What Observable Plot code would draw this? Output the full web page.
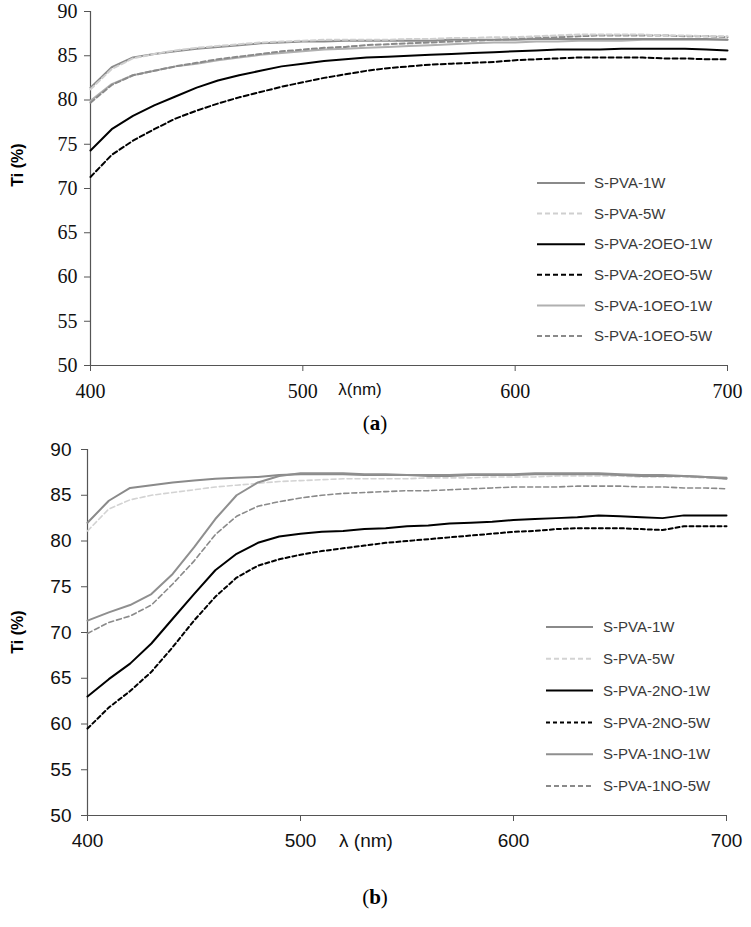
<!DOCTYPE html>
<html><head><meta charset="utf-8">
<script src="https://cdn.jsdelivr.net/npm/d3@7"></script>
<script src="https://cdn.jsdelivr.net/npm/@observablehq/plot@0.6"></script>
<style>
body{margin:0;background:#fff;}
#wrap{position:relative;width:751px;height:927px;overflow:hidden;background:#fff;}
.abs{position:absolute;white-space:nowrap;}
</style></head><body><div id="wrap"></div>
<script>
// ---------- data ----------
const lambda = [400,410,420,430,440,450,460,470,480,490,500,510,520,530,540,550,560,570,580,590,600,610,620,630,640,650,660,670,680,690,700];
const xTicks = [400,500,600,700];
const yTicks = [50,55,60,65,70,75,80,85,90];

// panel (a)
const namesA = ["S-PVA-1W","S-PVA-5W","S-PVA-2OEO-1W","S-PVA-2OEO-5W","S-PVA-1OEO-1W","S-PVA-1OEO-5W"];
const a_1W     = [81.4,83.7,84.8,85.2,85.5,85.8,86.0,86.2,86.4,86.5,86.6,86.6,86.7,86.7,86.7,86.7,86.7,86.8,86.8,86.8,86.8,86.9,86.9,86.9,86.9,86.9,86.9,86.9,86.9,86.9,86.8];
const a_5W     = [81.2,83.5,84.7,85.2,85.6,85.9,86.1,86.3,86.5,86.6,86.7,86.8,86.8,86.8,86.8,86.9,86.9,87.0,87.0,87.1,87.1,87.2,87.3,87.4,87.4,87.4,87.4,87.3,87.3,87.2,87.2];
const a_2OEO1W = [74.3,76.7,78.2,79.4,80.4,81.4,82.2,82.8,83.3,83.8,84.1,84.4,84.6,84.8,84.9,85.0,85.1,85.2,85.3,85.4,85.5,85.6,85.7,85.7,85.7,85.8,85.8,85.8,85.8,85.7,85.6];
const a_2OEO5W = [71.3,73.8,75.4,76.7,77.9,78.8,79.6,80.3,80.9,81.5,82.0,82.5,82.9,83.3,83.6,83.8,84.0,84.1,84.2,84.3,84.5,84.6,84.7,84.8,84.8,84.8,84.8,84.7,84.7,84.6,84.6];
const a_1OEO1W = [79.9,81.8,82.8,83.3,83.8,84.1,84.5,84.8,85.1,85.3,85.5,85.7,85.8,85.9,86.0,86.1,86.2,86.3,86.4,86.5,86.5,86.6,86.6,86.7,86.7,86.7,86.8,86.8,86.8,86.8,86.8];
const a_1OEO5W = [79.7,81.7,82.8,83.3,83.8,84.2,84.6,84.9,85.2,85.5,85.7,85.9,86.0,86.2,86.3,86.4,86.5,86.6,86.7,86.8,86.9,87.0,87.1,87.2,87.3,87.3,87.3,87.3,87.2,87.2,87.1];

// panel (b)
const namesB = ["S-PVA-1W","S-PVA-5W","S-PVA-2NO-1W","S-PVA-2NO-5W","S-PVA-1NO-1W","S-PVA-1NO-5W"];
const b_1W    = [82.0,84.4,85.8,86.1,86.4,86.6,86.8,86.9,87.0,87.2,87.3,87.3,87.3,87.2,87.2,87.2,87.1,87.1,87.2,87.2,87.2,87.3,87.3,87.3,87.3,87.2,87.1,87.1,87.1,87.0,86.8];
const b_5W    = [81.1,83.5,84.5,85.0,85.3,85.6,85.9,86.1,86.3,86.5,86.6,86.7,86.8,86.8,86.8,86.8,86.9,86.9,86.9,87.0,87.0,87.0,87.1,87.1,87.1,87.1,87.0,87.0,87.0,86.9,86.8];
const b_2NO1W = [63.0,64.9,66.6,68.8,71.5,74.2,76.8,78.6,79.8,80.5,80.8,81.0,81.1,81.3,81.4,81.6,81.7,81.9,82.0,82.1,82.3,82.4,82.5,82.6,82.8,82.7,82.6,82.5,82.8,82.8,82.8];
const b_2NO5W = [59.5,61.8,63.6,65.7,68.4,71.3,73.9,76.0,77.3,78.0,78.5,78.9,79.2,79.5,79.8,80.0,80.2,80.4,80.6,80.8,81.0,81.1,81.3,81.4,81.4,81.4,81.3,81.2,81.6,81.6,81.6];
const b_1NO1W = [71.3,72.2,73.0,74.2,76.4,79.3,82.4,85.0,86.4,87.1,87.4,87.4,87.4,87.3,87.3,87.2,87.2,87.2,87.3,87.3,87.3,87.4,87.4,87.4,87.4,87.3,87.2,87.2,87.1,87.0,86.9];
const b_1NO5W = [69.9,71.1,71.8,73.0,75.3,77.8,80.7,82.7,83.8,84.3,84.7,85.0,85.2,85.3,85.4,85.5,85.5,85.6,85.7,85.8,85.9,85.9,85.9,86.0,86.0,86.0,85.9,85.9,85.8,85.8,85.7];

// ---------- styles ----------
const stylesA = [
  {stroke:"#8a8a8a", dash:null, w:2},
  {stroke:"#cfcfcf", dash:"5,3", w:2},
  {stroke:"#000000", dash:null, w:2},
  {stroke:"#000000", dash:"5,3", w:2},
  {stroke:"#b0b0b0", dash:null, w:2},
  {stroke:"#8a8a8a", dash:"5,3", w:2}
];
const stylesB = [
  {stroke:"#8a8a8a", dash:null, w:2},
  {stroke:"#d3d3d3", dash:"5,3", w:1.6},
  {stroke:"#000000", dash:null, w:2},
  {stroke:"#000000", dash:"4,3", w:2},
  {stroke:"#8f8f8f", dash:null, w:2},
  {stroke:"#8a8a8a", dash:"5,3", w:1.6}
];
const seriesA = [a_1W,a_5W,a_2OEO1W,a_2OEO5W,a_1OEO1W,a_1OEO5W];
const seriesB = [b_1W,b_5W,b_2NO1W,b_2NO5W,b_1NO1W,b_1NO5W];
const drawOrderA = [4,0,5,1,2,3];
const drawOrderB = [1,0,5,4,3,2];

const wrap = document.getElementById("wrap");

function rows(vals){ return lambda.map((l,i)=>({l, v: vals[i]})); }

function makePanel(cfg){
  const lines = cfg.order.map(k => Plot.line(rows(cfg.series[k]), {
    x:"l", y:"v", stroke: cfg.styles[k].stroke, strokeWidth: cfg.styles[k].w,
    strokeDasharray: cfg.styles[k].dash || undefined
  }));
  const p = Plot.plot({
    width: 751, height: cfg.height,
    marginLeft: cfg.ml, marginRight: cfg.mr, marginTop: cfg.mt, marginBottom: cfg.mb,
    style: {fontFamily: cfg.font, fontSize: cfg.fontSize, color:"#111", background:"transparent", overflow:"visible"},
    x: {domain:[400,700]},
    y: {domain:[50,90]},
    marks: [
      Plot.axisY({ticks: yTicks, tickSize: 6, tickPadding: cfg.ypad, label: null, stroke:"#555", fill:"#111"}),
      Plot.axisX({ticks: xTicks, tickSize: 6, tickPadding: cfg.xpad, label: null, stroke:"#555", fill:"#111"}),
      Plot.ruleX([400], {stroke:"#555", strokeWidth:1.2}),
      Plot.ruleY([50], {stroke:"#555", strokeWidth:1.2}),
      ...lines
    ]
  });
  p.classList.add("abs");
  p.style.left = "0px"; p.style.top = cfg.top + "px";
  wrap.appendChild(p);
}

makePanel({series: seriesA, styles: stylesA, order: drawOrderA, top: 0, height: 405,
  ml: 90, mr: 24, mt: 11, mb: 40, font: "Liberation Serif", fontSize: "20px", ypad: 7, xpad: 12});
makePanel({series: seriesB, styles: stylesB, order: drawOrderB, top: 430, height: 425,
  ml: 87, mr: 25, mt: 19, mb: 40, font: "'Liberation Sans Narrow','Liberation Sans',sans-serif", fontSize: "19px", ypad: 10, xpad: 12});

// ---------- legends ----------
function legend(names, styles, left, firstY, step, lineLen, gap){
  const pad = 14;
  const svg = d3.create("svg").attr("width", 190).attr("height", step*names.length + 2*pad)
    .attr("class","abs").style("left", left+"px").style("top", (firstY - pad)+"px");
  names.forEach((n,i)=>{
    const y = pad + i*step;
    svg.append("line").attr("x1",0).attr("x2",lineLen).attr("y1",y).attr("y2",y)
      .attr("stroke", styles[i].stroke).attr("stroke-width", 2)
      .attr("stroke-dasharray", styles[i].dash);
    svg.append("text").attr("x", lineLen+gap).attr("y", y).attr("dy","0.35em")
      .attr("font-family","'Liberation Sans',Arial,sans-serif").attr("font-size",15)
      .attr("fill","#3a3a3a").text(n);
  });
  wrap.appendChild(svg.node());
}
legend(namesA, stylesA, 537, 183, 30.6, 48, 9);
legend(namesB, stylesB, 546, 627, 31.8, 47, 10);

// ---------- text labels ----------
function label(txt, x, y, css, rotate){
  const d = document.createElement("div");
  d.className = "abs"; d.innerHTML = txt;
  d.style.left = x + "px"; d.style.top = y + "px";
  d.style.transform = "translate(-50%,-50%)" + (rotate ? " rotate(-90deg)" : "");
  Object.assign(d.style, css);
  wrap.appendChild(d);
}
const yLab = {fontFamily:"'Liberation Sans',Arial,sans-serif", fontWeight:"bold", fontSize:"16px", color:"#000"};
label("Ti (%)", 18, 165, yLab, true);
label("Ti (%)", 18, 632, yLab, true);
label("λ(nm)", 360, 390, {fontFamily:"'Liberation Sans',Arial,sans-serif", fontSize:"17px", color:"#111"});
label("λ (nm)", 366, 841, {fontFamily:"'Liberation Sans Narrow','Liberation Sans',sans-serif", fontSize:"19px", color:"#111"});
const capCss = {fontFamily:"'Liberation Serif',serif", fontSize:"21px", color:"#000"};
label("(<b>a</b>)", 375, 423, capCss);
label("(<b>b</b>)", 375, 897, capCss);
</script></body></html>
